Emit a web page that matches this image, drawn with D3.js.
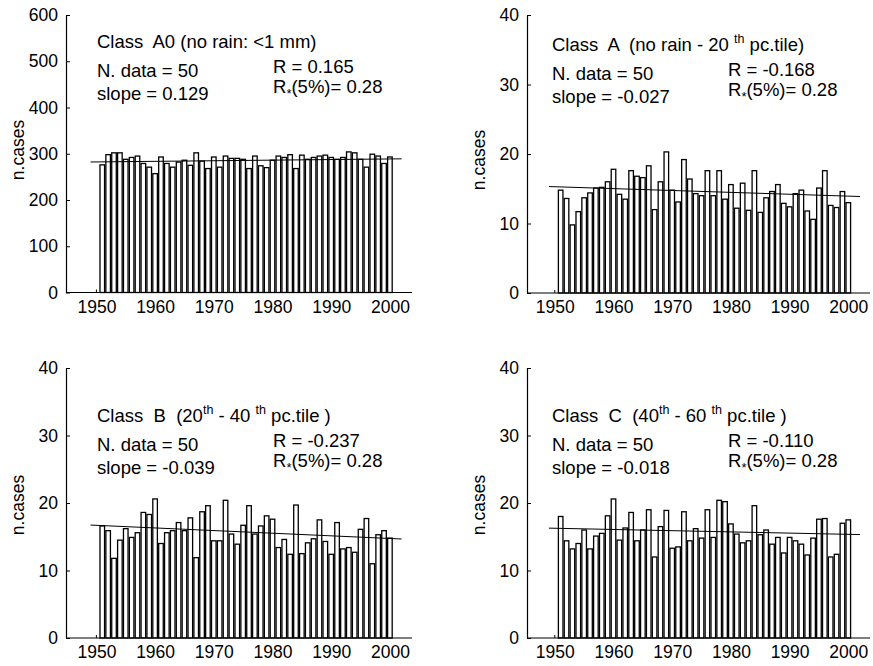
<!DOCTYPE html>
<html>
<head>
<meta charset="utf-8">
<script src="https://cdn.jsdelivr.net/npm/d3@7/dist/d3.min.js"></script>
<style>
  html, body { margin: 0; padding: 0; background: #fff; }
  svg { display: block; font-family: "Liberation Sans", Arial, Helvetica, sans-serif; }
</style>
</head>
<body>
<svg id="chart" width="873" height="666"></svg>
<script>
// Yearly counts of days per rainfall class, 1951-2000
const years = d3.range(1951, 2001);

const classA0 = [276, 298, 302, 302, 288, 292, 295, 279, 271, 257,
                 293, 279, 271, 282, 286, 275, 302, 284, 268, 293,
                 271, 295, 290, 290, 288, 268, 295, 274, 270, 286,
                 295, 292, 298, 268, 297, 288, 292, 295, 297, 292,
                 288, 292, 304, 302, 288, 271, 299, 295, 279, 293];

const classA = [14.8, 13.6, 9.8, 11.7, 13.7, 14.4, 15.1, 15.2, 16.0, 17.8,
                14.2, 13.5, 17.6, 16.8, 16.6, 18.3, 12.0, 16.0, 20.3, 14.8,
                13.1, 19.2, 16.4, 14.3, 14.0, 17.6, 14.0, 17.6, 13.5, 15.6,
                12.2, 15.8, 11.9, 17.6, 11.6, 13.7, 14.6, 15.6, 12.9, 12.4,
                14.3, 14.8, 11.8, 10.6, 15.1, 17.6, 12.6, 12.3, 14.6, 13.0];

const classB = [16.6, 15.9, 11.8, 14.5, 16.2, 14.9, 15.6, 18.6, 18.3, 20.6,
                14.0, 15.6, 15.9, 17.1, 15.9, 17.8, 11.9, 18.7, 19.6, 14.4,
                14.4, 20.4, 15.4, 13.9, 16.7, 19.6, 15.4, 16.6, 18.1, 17.6,
                13.4, 14.6, 12.4, 19.7, 12.5, 14.1, 14.7, 17.5, 14.3, 12.4,
                17.1, 13.2, 13.4, 12.7, 16.1, 17.7, 11.0, 15.3, 15.9, 14.8];

const classC = [18.0, 14.4, 13.2, 14.0, 16.0, 13.2, 15.1, 15.5, 18.1, 20.6,
                14.5, 16.3, 18.6, 14.4, 16.0, 19.0, 12.0, 16.5, 18.9, 13.3,
                13.5, 18.7, 14.4, 16.2, 14.8, 19.0, 14.9, 20.4, 20.2, 16.9,
                15.4, 14.1, 14.4, 19.6, 15.3, 16.0, 13.9, 14.9, 12.6, 14.9,
                14.4, 13.9, 12.3, 14.8, 17.6, 17.7, 12.0, 12.4, 17.0, 17.5];

const xTickYears = [1950, 1960, 1970, 1980, 1990, 2000];
const yTicksA0 = [0, 100, 200, 300, 400, 500, 600];
const yTicksPct = [0, 10, 20, 30, 40];
const yMaxes = [600, 40, 40, 40];

// Linear trend: slope per year and fitted value at the middle of the period
const trendSlope = [0.129, -0.027, -0.039, -0.018];
const trendMid = [285.6, 14.6, 15.7, 15.8];
const trendSpan = [1949, 2002];

const classTitles = [
  [{t: "Class  A0 (no rain: <1 mm)"}],
  [{t: "Class  A  (no rain - 20 "}, {t: "th", sup: true}, {t: " pc.tile)"}],
  [{t: "Class  B  (20"}, {t: "th", sup: true}, {t: " - 40 "}, {t: "th", sup: true}, {t: " pc.tile )"}],
  [{t: "Class  C  (40"}, {t: "th", sup: true}, {t: " - 60 "}, {t: "th", sup: true}, {t: " pc.tile )"}]
];
const nData = ["N. data = 50", "N. data = 50", "N. data = 50", "N. data = 50"];
const slopeText = ["slope = 0.129", "slope = -0.027", "slope = -0.039", "slope = -0.018"];
const rText = ["R = 0.165", "R = -0.168", "R = -0.237", "R = -0.110"];
const rCritText = "(5%)= 0.28";
const yLabel = "n.cases";

const series = [classA0, classA, classB, classC];
const yTickSets = [yTicksA0, yTicksPct, yTicksPct, yTicksPct];

// Panel frames
const frames = [
  {axisX: 66,  x1950: 96.4,  xEnd: 412, yTop: 15,  yBot: 292.5, labY: 150, labX: 18,  textX: 97,  rX: 273, base: 48},
  {axisX: 527, x1950: 554.8, xEnd: 870, yTop: 15,  yBot: 293,   labY: 160, labX: 479, textX: 552, rX: 728, base: 51},
  {axisX: 66,  x1950: 96.4,  xEnd: 412, yTop: 368, yBot: 638,   labY: 505, labX: 18,  textX: 97,  rX: 273, base: 422},
  {axisX: 527, x1950: 554.8, xEnd: 870, yTop: 368, yBot: 638,   labY: 505, labX: 479, textX: 552, rX: 728, base: 422}
];
const pitch = 5.87;

const svg = d3.select("#chart");
const FS = 18.5;

frames.forEach((f, k) => {
  const g = svg.append("g");
  const data = years.map((yr, i) => ({year: yr, v: series[k][i]}));

  const x = d3.scaleLinear().domain([1950, 2000]).range([f.x1950, f.x1950 + 50 * pitch]);
  const xb = d3.scaleBand().domain(years).range([x(1950.5), x(2000.5)]).padding(0);
  const y = d3.scaleLinear().domain([0, yMaxes[k]]).range([f.yBot, f.yTop]);

  // bars: white fill, black outline
  const sw = 1.3;
  g.append("g").selectAll("rect").data(data).join("rect")
    .attr("x", d => xb(d.year) + sw / 2)
    .attr("width", xb.bandwidth() - sw)
    .attr("y", d => y(d.v))
    .attr("height", d => y(0) - y(d.v))
    .attr("fill", "#fff")
    .attr("stroke", "#000")
    .attr("stroke-width", sw);

  // trend line
  const tl = trendSpan.map(t => [t, trendMid[k] + trendSlope[k] * (t - 1975.5)]);
  g.append("path")
    .attr("d", d3.line().x(d => x(d[0])).y(d => y(d[1]))(tl))
    .attr("fill", "none").attr("stroke", "#000").attr("stroke-width", 1);

  // y axis with inward ticks
  const ya = g.append("g").attr("transform", `translate(${f.axisX},0)`)
    .call(d3.axisLeft(y).tickValues(yTickSets[k]).tickSizeInner(-4).tickSizeOuter(0).tickPadding(8));
  ya.select(".domain").attr("stroke-width", 1.2);
  ya.selectAll("text").attr("font-size", 17.5).attr("font-family", null).attr("fill", "#000");

  // x axis line from the y axis to the right end
  g.append("line")
    .attr("x1", f.axisX).attr("x2", f.xEnd)
    .attr("y1", y(0)).attr("y2", y(0))
    .attr("stroke", "#000").attr("stroke-width", 1.2);

  const xa = g.append("g").attr("transform", `translate(0,${y(0)})`)
    .call(d3.axisBottom(x).tickValues(xTickYears).tickFormat(d3.format("d")).tickSize(0).tickPadding(8));
  xa.select(".domain").remove();
  xa.selectAll("text").attr("font-size", 17.5).attr("font-family", null).attr("fill", "#000");
  // short start mark at 1950
  g.append("line")
    .attr("x1", x(1950)).attr("x2", x(1950))
    .attr("y1", y(0)).attr("y2", y(0) - 3)
    .attr("stroke", "#000").attr("stroke-width", 1);

  // y label
  g.append("text")
    .attr("transform", `translate(${f.labX},${f.labY}) rotate(-90)`)
    .attr("text-anchor", "middle").attr("dy", "0.35em")
    .attr("font-size", 17.5).text(yLabel);

  // class title with superscripts
  const title = g.append("text").attr("x", f.textX).attr("y", f.base)
    .attr("font-size", FS).style("white-space", "pre");
  let shifted = false;
  classTitles[k].forEach(s => {
    const ts = title.append("tspan").text(s.t);
    if (s.sup) { ts.attr("font-size", 12.5).attr("dy", -8); shifted = true; }
    else if (shifted) { ts.attr("dy", 8); shifted = false; }
  });

  g.append("text").attr("x", f.textX).attr("y", f.base + 29).attr("font-size", FS).text(nData[k]);
  g.append("text").attr("x", f.textX).attr("y", f.base + 52).attr("font-size", FS).text(slopeText[k]);
  g.append("text").attr("x", f.rX).attr("y", f.base + 25).attr("font-size", FS).text(rText[k]);
  const rc = g.append("text").attr("x", f.rX).attr("y", f.base + 45).attr("font-size", FS);
  rc.append("tspan").text("R");
  rc.append("tspan").text("*").attr("font-size", 13).attr("dy", 5);
  rc.append("tspan").text(rCritText).attr("dy", -5);
});
</script>
</body>
</html>
